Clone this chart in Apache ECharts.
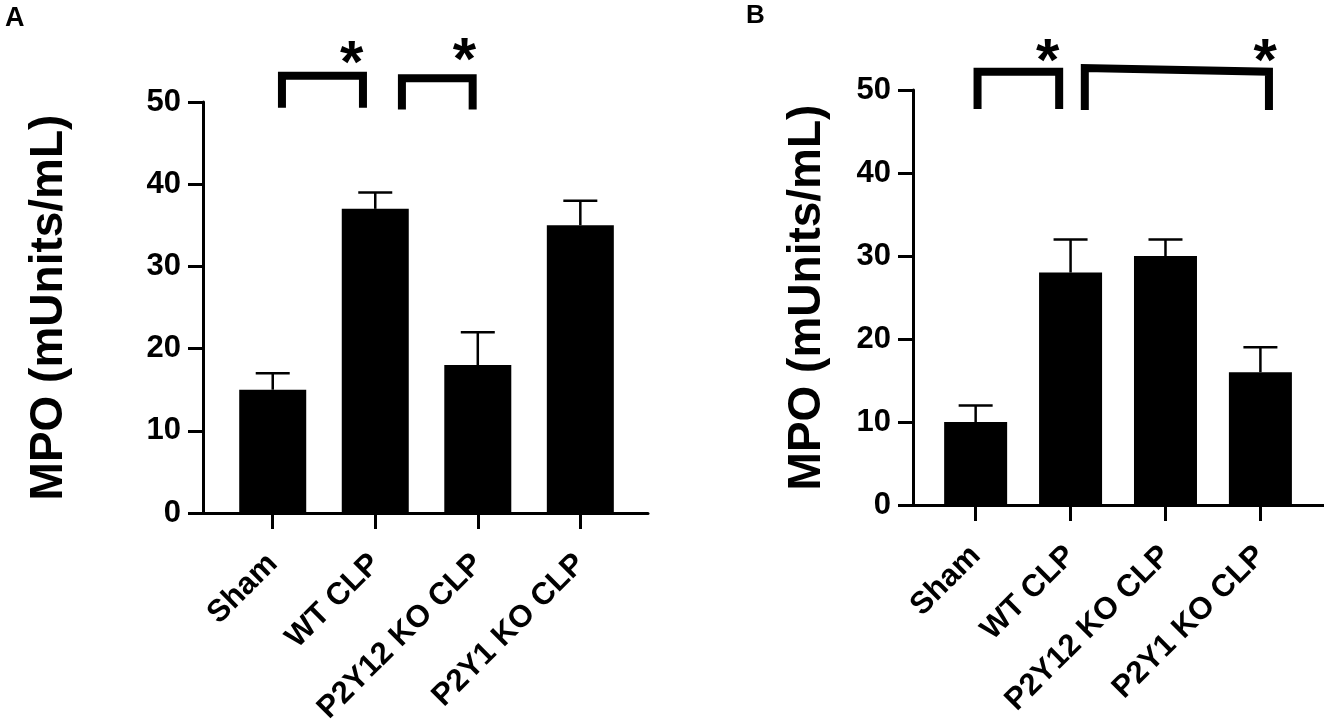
<!DOCTYPE html>
<html>
<head>
<meta charset="utf-8">
<title>MPO</title>
<script src="https://cdn.jsdelivr.net/npm/echarts@6/dist/echarts.min.js"></script>
<style>
    html, body { margin: 0; padding: 0; background: #fff; }
    #main { width: 1324px; height: 720px; }
</style>
</head>
<body>
<div id="main"></div>
<script>
    var categories = ['Sham', 'WT CLP', 'P2Y12 KO CLP', 'P2Y1 KO CLP'];

    // panel A
    var meanA = [15, 37, 18, 35];
    var errA = [2, 2, 4, 3];
    // [x left, x right, top left, top right, leg bottom]
    var bracketsA = [[0.09, 0.88, 53.2, 53.2, 49.3], [1.26, 1.95, 52.9, 52.9, 49.1]];
    var starsA = [[0.77, 56.0], [1.87, 56.4]];

    // panel B
    var meanB = [10, 28, 30, 16];
    var errB = [2, 4, 2, 3];
    var bracketsB = [[0.02, 0.88, 52.2, 52.2, 47.7], [1.15, 3.09, 52.65, 52.2, 47.6]];
    var starsB = [[0.76, 54.8], [3.05, 54.8]];

    var tickPos = [0, 1, 2, 3];

    var FONT = 'Liberation Sans, Arial, sans-serif';
    var chart = echarts.init(document.getElementById('main'));

    function renderErr(params, api) {
        var x = api.value(0), m = api.value(1), e = api.value(2);
        var base = api.coord([x, m]), top = api.coord([x, m + e]);
        var st = { stroke: '#000', lineWidth: 2.5 };
        return {
            type: 'group',
            children: [
                { type: 'line', shape: { x1: base[0], y1: base[1], x2: top[0], y2: top[1] }, style: st },
                { type: 'line', shape: { x1: top[0] - 17, y1: top[1], x2: top[0] + 17, y2: top[1] }, style: st }
            ]
        };
    };

    function renderBracket(params, api) {
        var a = api.coord([api.value(0), api.value(4)]);
        var b = api.coord([api.value(0), api.value(2)]);
        var c = api.coord([api.value(1), api.value(3)]);
        var d = api.coord([api.value(1), api.value(4)]);
        return {
            type: 'polyline',
            shape: { points: [a, b, c, d] },
            style: { stroke: '#000', lineWidth: 8, fill: null, lineJoin: 'miter', lineCap: 'butt' }
        };
    };

    // star glyph sits high in its text box, push it down so its centre is on the point
    function renderStar(params, api) {
        var p = api.coord([api.value(0), api.value(1)]);
        return {
            type: 'text',
            x: p[0],
            y: p[1] + 13,
            style: { text: '*', font: 'bold 60px ' + FONT, fill: '#000', align: 'center', verticalAlign: 'middle' }
        };
    };

    function xAxisFor(idx, min, max) {
        return {
            gridIndex: idx,
            type: 'value',
            min: min,
            max: max,
            splitLine: { show: false },
            axisLine: { lineStyle: { color: '#000', width: 3 } },
            axisTick: { customValues: tickPos, length: 16, lineStyle: { color: '#000', width: 3 } },
            axisLabel: {
                customValues: tickPos,
                rotate: 45,
                margin: 46,
                color: '#000',
                fontFamily: FONT,
                fontWeight: 'bold',
                fontSize: 31,
                formatter: function (v) { return categories[v]; }
            }
        };
    };

    function yAxisFor(idx, gap) {
        return {
            gridIndex: idx,
            type: 'value',
            min: 0,
            max: 50,
            interval: 10,
            name: 'MPO (mUnits/mL)',
            nameLocation: 'middle',
            nameGap: gap,
            nameTextStyle: { color: '#000', fontFamily: FONT, fontWeight: 'bold', fontSize: 46 },
            splitLine: { show: false },
            axisLine: { show: true, onZero: false, lineStyle: { color: '#000', width: 3 } },
            axisTick: { show: true, length: 15, lineStyle: { color: '#000', width: 3 } },
            axisLabel: { margin: 22, color: '#000', fontFamily: FONT, fontWeight: 'bold', fontSize: 31 }
        };
    };

    function panelSeries(idx, means, errs, brackets, stars, barW) {
        var bars = [], ebs = [];
        for (var i = 0; i < means.length; i++) {
            bars.push([i, means[i]]);
            ebs.push([i, means[i], errs[i]]);
        };
        return [{
            type: 'bar',
            xAxisIndex: idx,
            yAxisIndex: idx,
            barWidth: barW,
            itemStyle: { color: '#000' },
            data: bars
        }, {
            type: 'custom',
            xAxisIndex: idx,
            yAxisIndex: idx,
            clip: false,
            renderItem: renderErr,
            data: ebs
        }, {
            type: 'custom',
            xAxisIndex: idx,
            yAxisIndex: idx,
            clip: false,
            renderItem: renderBracket,
            encode: { x: [0, 1], y: [2, 3, 4] },
            data: brackets
        }, {
            type: 'custom',
            xAxisIndex: idx,
            yAxisIndex: idx,
            clip: false,
            renderItem: renderStar,
            data: stars
        }];
    };

    var option = {
        animation: false,
        backgroundColor: '#fff',
        title: [
            { text: 'A', left: 0, top: 0, textStyle: { fontFamily: FONT, fontWeight: 'bold', fontSize: 27, color: '#000' } },
            { text: 'B', left: 741, top: -2, textStyle: { fontFamily: FONT, fontWeight: 'bold', fontSize: 26, color: '#000' } }
        ],
        grid: [
            { left: 203, top: 102, width: 445, height: 411, outerBoundsMode: 'none', containLabel: false },
            { left: 913, top: 90, width: 411, height: 415, outerBoundsMode: 'none', containLabel: false }
        ],
        xAxis: [xAxisFor(0, -0.68, 3.66), xAxisFor(1, -0.66, 3.67)],
        yAxis: [yAxisFor(0, 131), yAxisFor(1, 83)],
        series: panelSeries(0, meanA, errA, bracketsA, starsA, 67)
            .concat(panelSeries(1, meanB, errB, bracketsB, starsB, 63))
    };
    chart.setOption(option);
</script>
</body>
</html>
